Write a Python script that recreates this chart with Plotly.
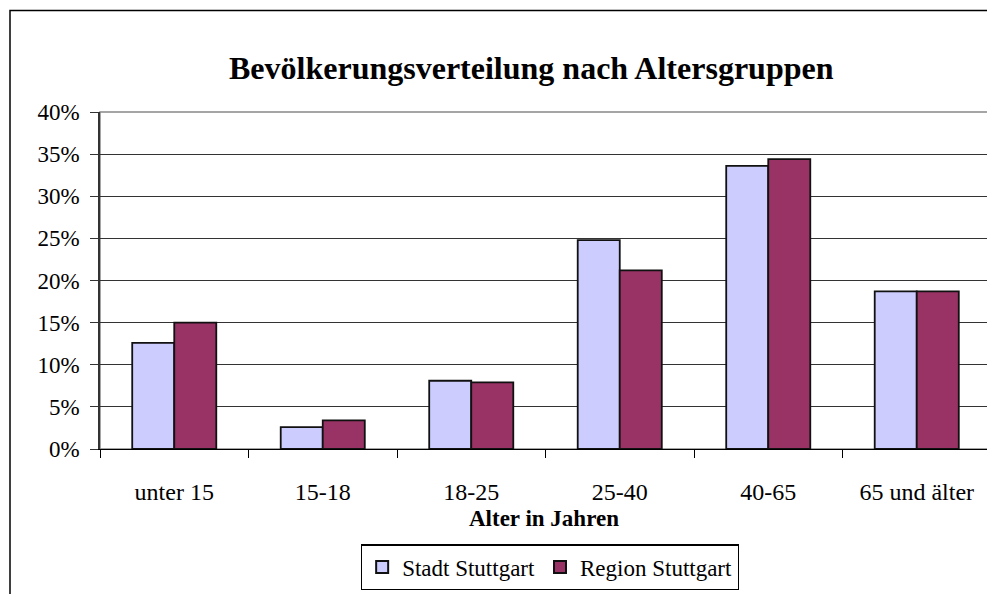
import plotly.graph_objects as go

categories = ["unter 15", "15-18", "18-25", "25-40", "40-65", "65 und älter"]
stadt = [12.6, 2.6, 8.1, 24.8, 33.6, 18.7]
region = [15.0, 3.4, 7.9, 21.2, 34.4, 18.7]
y_ticks = [0, 5, 10, 15, 20, 25, 30, 35, 40]
y_tick_labels = [f"{v}%" for v in y_ticks]

FONT = "Liberation Serif, Times New Roman, serif"

fig = go.Figure()
fig.add_trace(go.Bar(name="Stadt Stuttgart", x=categories, y=stadt,
                     marker=dict(color="#CCCCFF", line=dict(color="#111111", width=1.8))))
fig.add_trace(go.Bar(name="Region Stuttgart", x=categories, y=region,
                     marker=dict(color="#993366", line=dict(color="#111111", width=1.8))))

# page body has an 8px margin: figure occupies page x 8..995, y 8..594
fig.update_layout(
    width=987, height=586,
    margin=dict(l=92, r=4, t=104, b=143),
    paper_bgcolor="white", plot_bgcolor="white",
    barmode="group", bargap=0.434, bargroupgap=0,
    font=dict(family=FONT, size=23, color="black"),
    showlegend=True,
    legend=dict(orientation="h", x=0.505, xanchor="center", y=-0.283, yanchor="top",
                bordercolor="black", borderwidth=1.2, bgcolor="white",
                font=dict(family=FONT, size=23, color="black"),
                itemsizing="constant", tracegroupgap=0),
    xaxis=dict(showline=True, linecolor="black", linewidth=1.2,
               ticks="outside", ticklen=8, tickcolor="black", tickwidth=1.2,
               tickson="boundaries", showgrid=False,
               tickfont=dict(family=FONT, size=24, color="black"),
               ticklabelstandoff=21),
    yaxis=dict(range=[0, 40], tickvals=y_ticks, ticktext=y_tick_labels,
               showline=True, linecolor="#333333", linewidth=1.5,
               ticks="outside", ticklen=8, tickcolor="#333333", tickwidth=1.2,
               showgrid=True, gridcolor="#333333", gridwidth=1, zeroline=False,
               tickfont=dict(family=FONT, size=23, color="black"),
               ticklabelstandoff=6),
    annotations=[
        dict(text="<b>Bevölkerungsverteilung nach Altersgruppen</b>", xref="paper", yref="paper",
             x=0.484, y=(451 - 68) / 339, xanchor="center", yanchor="middle", showarrow=False,
             font=dict(family=FONT, size=32, color="black")),
        dict(text="<b>Alter in Jahren</b>", xref="paper", yref="paper",
             x=(544 - 100) / 891, y=(451 - 521) / 339, xanchor="center", yanchor="middle",
             showarrow=False, font=dict(family=FONT, size=23, color="black")),
    ],
    shapes=[
        dict(type="rect", xref="paper", yref="paper", x0=0, x1=1, y0=0, y1=1,
             line=dict(color="#888888", width=1.5), fillcolor="rgba(0,0,0,0)", layer="below"),
        dict(type="rect", xref="paper", yref="paper",
             x0=(10 - 100) / 891, x1=1.2, y0=-0.6, y1=(451 - 10) / 339,
             line=dict(color="black", width=1.5), fillcolor="rgba(0,0,0,0)"),
    ],
)

fig.write_html("out.html")
